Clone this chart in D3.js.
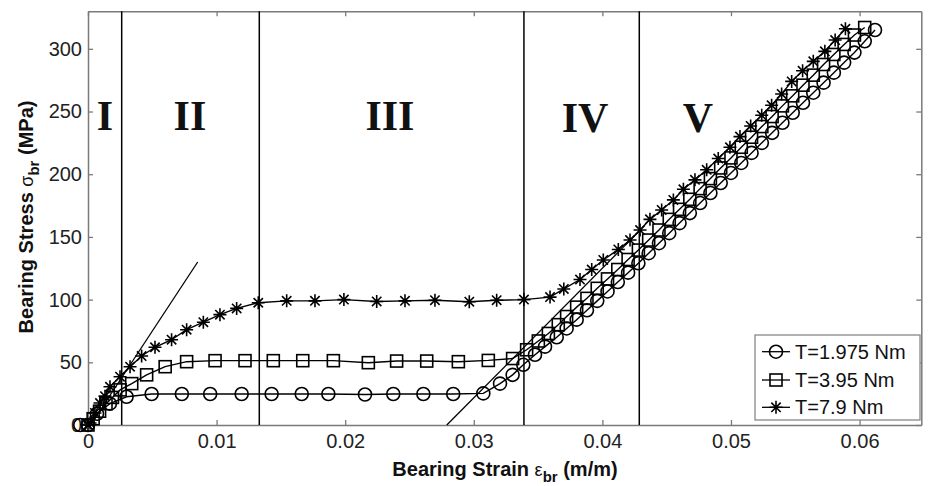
<!DOCTYPE html>
<html>
<head>
<meta charset="utf-8">
<script src="https://cdn.jsdelivr.net/npm/d3@7"></script>
<style>
  body { margin: 0; background: #fff; }
  text { font-family: Arial, "Liberation Sans", Helvetica, sans-serif; }
</style>
</head>
<body>
<div id="chart"></div>
<script>
// series labels (legend order)
const seriesNames = ["T=1.975 Nm", "T=3.95 Nm", "T=7.9 Nm"];

// T=1.975 Nm  [strain, stress]
const circleData = [
  [-0.0006, 0], [0.0000, 0], [0.0007, 9], [0.0017, 17], [0.0030, 22.5],
  [0.00495, 24.7], [0.0073, 24.7], [0.0095, 24.7], [0.01195, 24.7], [0.01428, 24.7],
  [0.01662, 24.7], [0.01869, 24.7], [0.02154, 24.3], [0.02374, 24.7], [0.02608, 24.7],
  [0.0284, 24.7], [0.03074, 25.2], [0.03204, 33], [0.03302, 40], [0.03385, 48],
  [0.03476, 56], [0.03554, 62.5], [0.03645, 70], [0.03722, 77], [0.0380, 84],
  [0.0388, 91.5], [0.0396, 99], [0.0404, 106.5], [0.0412, 114], [0.0420, 121.5],
  [0.0428, 129], [0.0436, 137], [0.0444, 145], [0.0452, 153], [0.0460, 161],
  [0.0468, 169], [0.0476, 177], [0.0484, 185], [0.0492, 193], [0.0500, 201],
  [0.0508, 209], [0.0516, 217], [0.0524, 225], [0.0532, 233], [0.0540, 241],
  [0.0548, 249], [0.0556, 257], [0.0564, 265], [0.0572, 273], [0.0580, 281],
  [0.0588, 289], [0.0596, 297], [0.0604, 306], [0.0612, 315]
];

// T=3.95 Nm
const squareData = [
  [0.0000, 0], [0.0004, 5], [0.0009, 11], [0.0014, 17], [0.0019, 22],
  [0.0025, 28], [0.0034, 33], [0.00456, 40], [0.0060, 46.5], [0.00767, 50.5],
  [0.00988, 51.3], [0.01221, 51.3], [0.01441, 51.3], [0.0167, 51.3], [0.01908, 51.3],
  [0.0218, 49.7], [0.0240, 51], [0.02634, 51], [0.0288, 50.5], [0.03113, 51.5],
  [0.03302, 53], [0.03411, 60], [0.03502, 67], [0.0358, 73], [0.03657, 80],
  [0.03722, 86.5], [0.0380, 94], [0.0388, 101], [0.0396, 109], [0.0404, 116.5],
  [0.0412, 124], [0.0420, 132], [0.0428, 139.5], [0.0436, 147.5], [0.0444, 155.5],
  [0.0452, 164], [0.0460, 172], [0.0468, 180], [0.0476, 188.5], [0.0484, 196.5],
  [0.0492, 205], [0.0500, 213], [0.0508, 221.5], [0.0516, 229.5], [0.0524, 238],
  [0.0532, 246], [0.0540, 254.5], [0.0548, 262.5], [0.0556, 271], [0.0564, 279],
  [0.0572, 287.5], [0.0580, 295.5], [0.0588, 303.5], [0.0596, 311], [0.0604, 317]
];

// T=7.9 Nm
const starData = [
  [0.0000, 0], [0.00016, 1.6], [0.00054, 9.6], [0.00093, 17.5], [0.00132, 23],
  [0.00171, 30.5], [0.00249, 38.5], [0.00327, 46.5], [0.00417, 55], [0.00521, 62],
  [0.0065, 68], [0.00767, 76], [0.00897, 82], [0.01026, 88], [0.01156, 93],
  [0.01324, 97.5], [0.01545, 99], [0.01765, 99], [0.0199, 100], [0.02245, 98.5],
  [0.02465, 99], [0.02698, 99.5], [0.02965, 98.3], [0.03178, 99.5], [0.0339, 100],
  [0.03593, 102], [0.03700, 108.5], [0.03826, 116], [0.03917, 124], [0.04007, 131.6],
  [0.04124, 140], [0.04215, 147.5], [0.04293, 155.5], [0.0437, 164], [0.04461, 171.5],
  [0.04552, 179.5], [0.0463, 188], [0.0472, 195.5], [0.04811, 203.5], [0.04901, 212.5],
  [0.04992, 221.5], [0.0507, 230], [0.05153, 238.5], [0.05239, 247], [0.05316, 255],
  [0.05394, 264], [0.05472, 274], [0.05557, 282.5], [0.0564, 290], [0.0573, 298],
  [0.0581, 307], [0.0589, 316]
];

// straight reference lines (endpoints)
const tangentLines = [
  [[0.0002, 0], [0.00853, 130]],
  [[0.0279, 0], [0.0429, 155]]
];

// region boundaries and labels
const regionBounds = [0.00262, 0.01332, 0.0339, 0.04287];
const regionNames = ["I", "II", "III", "IV", "V"];
const regionCentres = [0.00132, 0.00793, 0.02348, 0.03865, 0.04743];

const xTicks = [0, 0.01, 0.02, 0.03, 0.04, 0.05, 0.06];
const yTicks = [0, 50, 100, 150, 200, 250, 300];

const width = 928, height = 486;
const svg = d3.select("#chart").append("svg")
  .attr("width", width)
  .attr("height", height);

const x = d3.scaleLinear().domain([0, 0.0648]).range([88, 921.3]);
const y = d3.scaleLinear().domain([0, 330]).range([425, 11.2]);

const axisColor = "#7a7a7a";
const markStroke = 1.6;

// axes (MATLAB style, ticks inward on all sides)
const gx = svg.append("g").attr("transform", "translate(0,425)")
  .call(d3.axisBottom(x).tickValues(xTicks).tickFormat(d3.format("~g"))
    .tickSizeInner(-5).tickSizeOuter(0).tickPadding(9));
const gy = svg.append("g").attr("transform", "translate(88,0)")
  .call(d3.axisLeft(y).tickValues(yTicks).tickFormat(d3.format("d"))
    .tickSizeInner(-5).tickSizeOuter(0).tickPadding(6));
const gt = svg.append("g").attr("transform", "translate(0,11.2)")
  .call(d3.axisTop(x).tickValues(xTicks).tickFormat("").tickSizeInner(-5).tickSizeOuter(0));
const gr = svg.append("g").attr("transform", "translate(921.3,0)")
  .call(d3.axisRight(y).tickValues(yTicks).tickFormat("").tickSizeInner(-5).tickSizeOuter(0));

[gx, gy, gt, gr].forEach(g => {
  g.select(".domain").attr("stroke", axisColor).attr("stroke-width", 1.5);
  g.selectAll(".tick line").attr("stroke", axisColor).attr("stroke-width", 1.3);
  g.selectAll(".tick text").attr("fill", "#222").style("font-size", "20px")
    .style("font-family", "Arial, 'Liberation Sans', sans-serif");
});

// region boundaries
svg.selectAll(".bound")
  .data(regionBounds)
  .enter()
  .append("line")
  .attr("x1", d => x(d)).attr("x2", d => x(d))
  .attr("y1", y(330)).attr("y2", y(0))
  .attr("stroke", "#000").attr("stroke-width", 1.5);

svg.selectAll(".region")
  .data(regionNames)
  .enter()
  .append("text")
  .attr("x", (d, i) => x(regionCentres[i]))
  .attr("y", (d, i) => i < 3 ? 130 : 132)
  .attr("text-anchor", "middle")
  .style("font-family", "'Liberation Serif', 'Times New Roman', serif")
  .style("font-weight", "bold")
  .style("font-size", "42px")
  .attr("fill", "#111")
  .text(d => d);

// tangent lines
const line = d3.line().x(d => x(d[0])).y(d => y(d[1]));
svg.selectAll(".tangent")
  .data(tangentLines)
  .enter()
  .append("path")
  .attr("d", line)
  .attr("fill", "none")
  .attr("stroke", "#000")
  .attr("stroke-width", 1.3);

// markers
function drawMarker(g, kind, cx, cy) {
  if (kind === "circle") {
    g.append("circle").attr("cx", cx).attr("cy", cy).attr("r", 6.5)
      .attr("fill", "none").attr("stroke", "#000").attr("stroke-width", markStroke);
  } else if (kind === "square") {
    g.append("rect").attr("x", cx - 6).attr("y", cy - 6).attr("width", 12).attr("height", 12)
      .attr("fill", "none").attr("stroke", "#000").attr("stroke-width", markStroke);
  } else {
    const r = 6.5, q = r * 0.72;
    g.append("path")
      .attr("d", `M${cx - r},${cy}H${cx + r}M${cx},${cy - r}V${cy + r}` +
        `M${cx - q},${cy - q}L${cx + q},${cy + q}M${cx - q},${cy + q}L${cx + q},${cy - q}`)
      .attr("stroke", "#000").attr("stroke-width", markStroke).attr("fill", "none");
  }
}

const series = [
  { data: circleData, kind: "circle" },
  { data: squareData, kind: "square" },
  { data: starData, kind: "star" }
];

series.forEach(s => {
  const g = svg.append("g");
  g.append("path")
    .attr("d", line(s.data))
    .attr("fill", "none")
    .attr("stroke", "#000")
    .attr("stroke-width", 1.4);
  s.data.forEach(d => drawMarker(g, s.kind, x(d[0]), y(d[1])));
});

// axis labels
svg.append("text")
  .attr("x", 505).attr("y", 476)
  .attr("text-anchor", "middle")
  .style("font-size", "20px").style("font-weight", "bold").attr("fill", "#111")
  .call(t => {
    t.append("tspan").text("Bearing Strain ");
    t.append("tspan").text("ε").style("font-weight", "normal").style("font-size", "18px");
    t.append("tspan").text("br").attr("dy", 6).style("font-size", "15px");
    t.append("tspan").text(" (m/m)").attr("dy", -6);
  });

svg.append("text")
  .attr("transform", "translate(33,217) rotate(-90)")
  .attr("text-anchor", "middle")
  .style("font-size", "20px").style("font-weight", "bold").attr("fill", "#111")
  .call(t => {
    t.append("tspan").text("Bearing Stress ");
    t.append("tspan").text("σ").style("font-weight", "normal").style("font-size", "18px");
    t.append("tspan").text("br").attr("dy", 6).style("font-size", "15px");
    t.append("tspan").text(" (MPa)").attr("dy", -6);
  });

// legend
const legend = svg.append("g");
legend.append("rect")
  .attr("x", 755).attr("y", 335).attr("width", 165).attr("height", 85)
  .attr("fill", "#fff").attr("stroke", "#888").attr("stroke-width", 1.3);
const legendY = [351.7, 380, 407.3];
series.forEach((s, i) => {
  const ly = legendY[i];
  legend.append("line").attr("x1", 762).attr("x2", 790).attr("y1", ly).attr("y2", ly)
    .attr("stroke", "#000").attr("stroke-width", 1.3);
  drawMarker(legend, s.kind, 776, ly);
  legend.append("text").attr("x", 795).attr("y", ly + 7)
    .style("font-size", "20px").attr("fill", "#111")
    .text(seriesNames[i]);
});
</script>
</body>
</html>
